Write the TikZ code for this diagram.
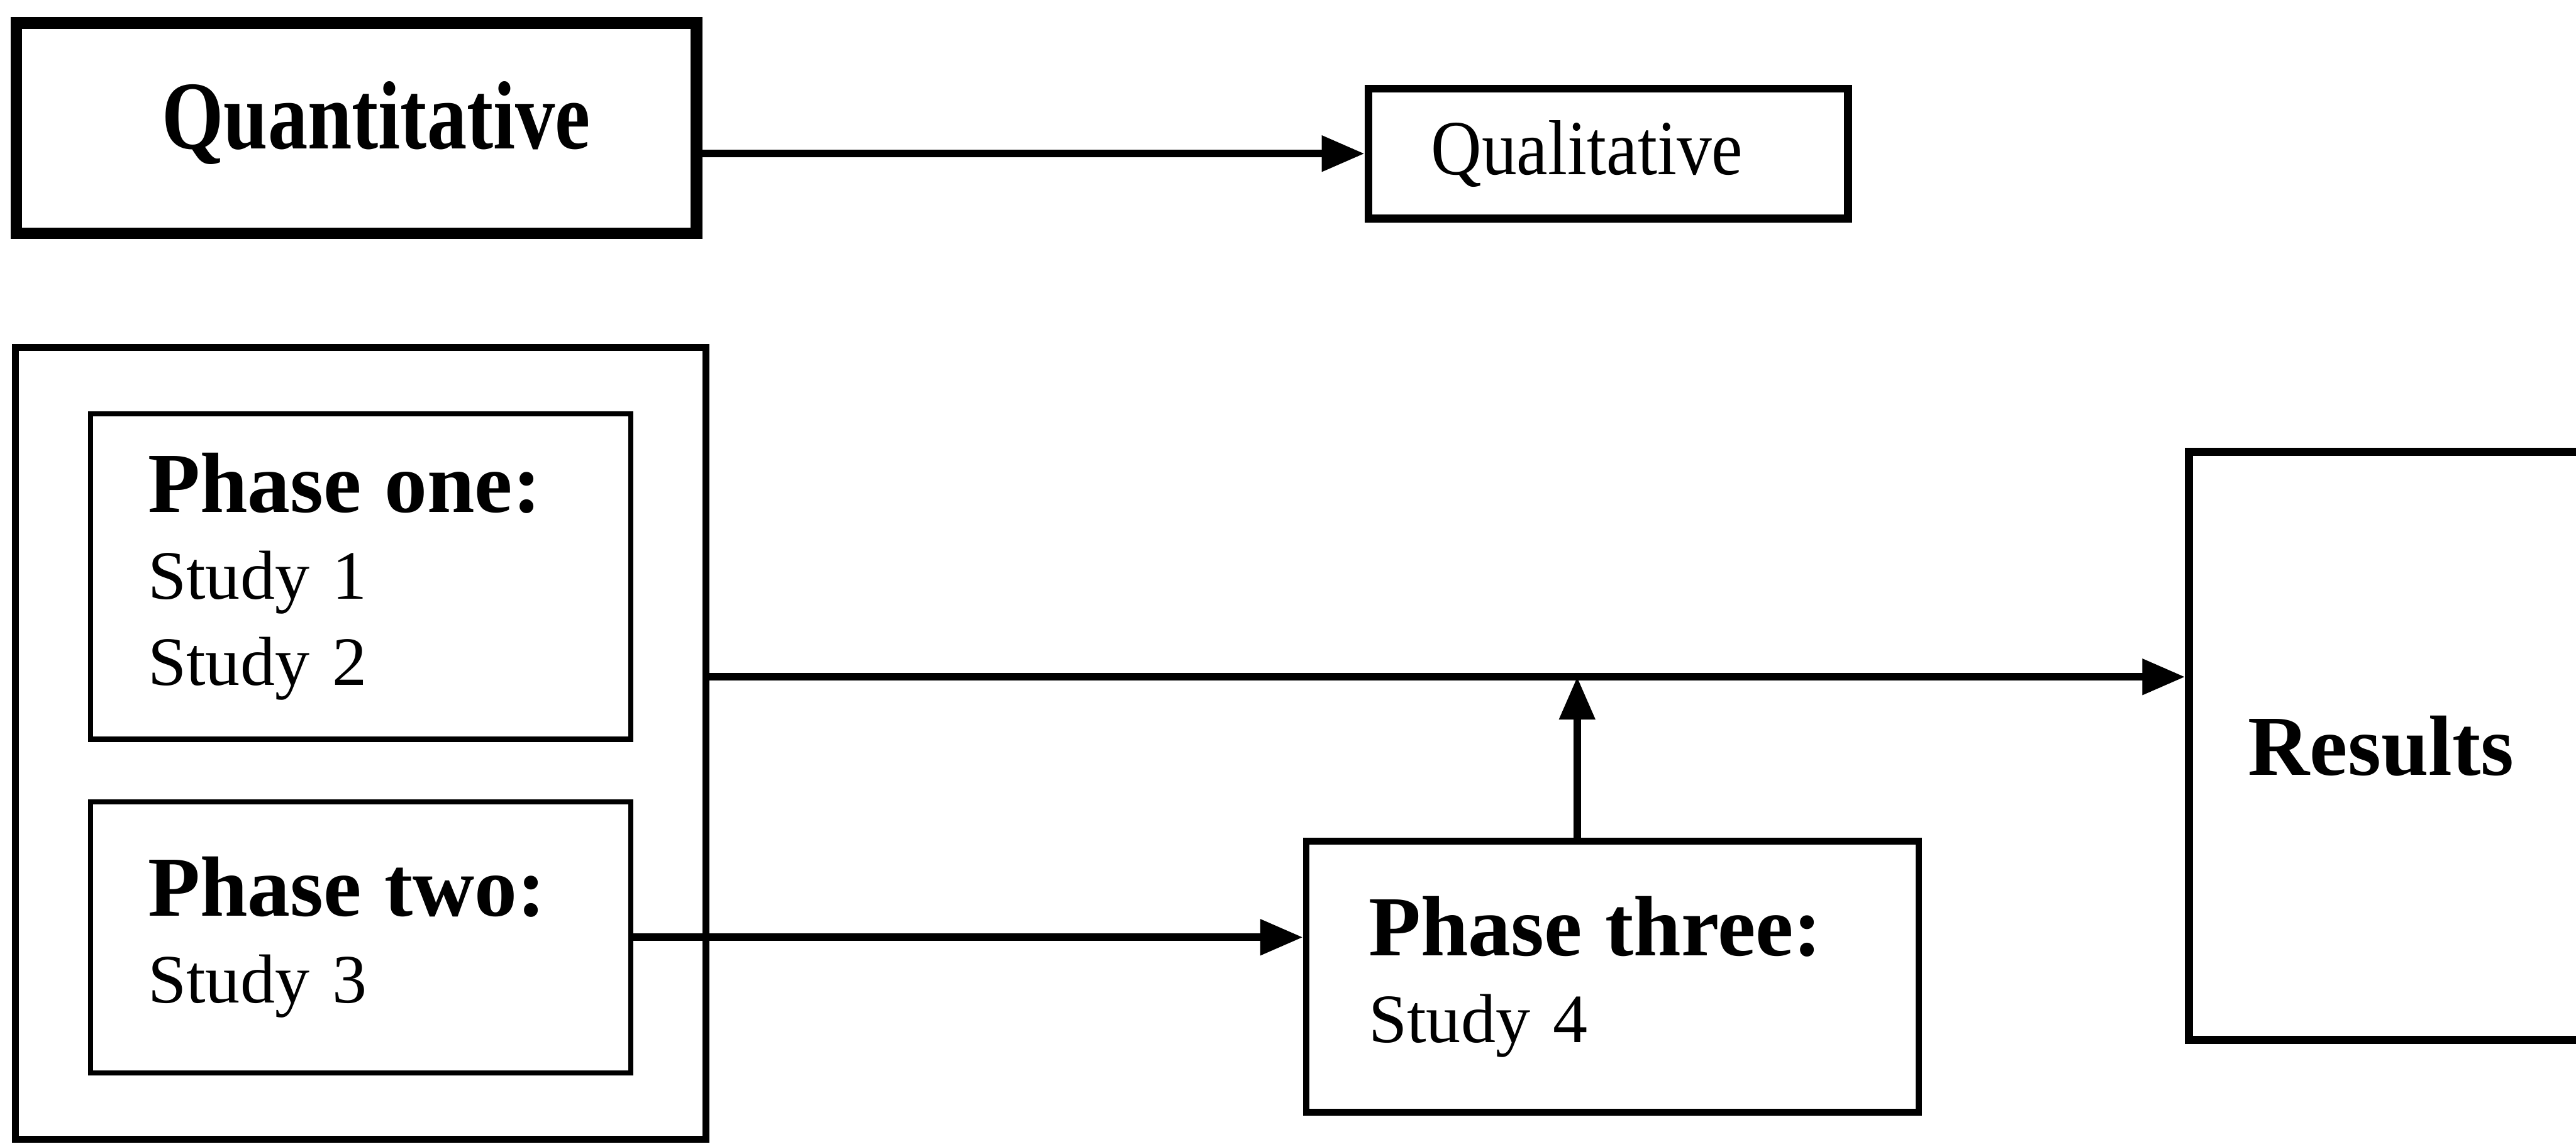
\documentclass[tikz,border=0pt]{standalone}
\usepackage{fontspec}
\setmainfont{Liberation Serif}
\newfontfamily\narrowfont{Liberation Serif}[FakeStretch=0.82]
\newfontfamily\slimfont{Liberation Serif}[FakeStretch=0.9]
\usetikzlibrary{arrows.meta,positioning,fit}

\tikzset{
  box/.style={draw, rectangle, inner sep=0pt},
  phasebox/.style={draw, rectangle, line width=0.9pt, align=left, inner xsep=0.35cm, inner ysep=0pt,
    font=\fontsize{12pt}{15pt}\selectfont},
  flow/.style={line width=1.3pt, -{Triangle[length=0.26cm,width=0.21cm]}}
}
\newcommand{\phasehead}[1]{{\fontsize{14.8pt}{15pt}\selectfont\bfseries #1}}

\begin{document}
\begin{tikzpicture}
    \useasboundingbox (0,0) rectangle (15.68,-6.96);

    % top row
    \node[box, line width=2pt, minimum width=4.14cm, minimum height=1.28cm,
        font=\narrowfont\fontsize{16.8pt}{18pt}\selectfont\bfseries] (quan) at (2.17,-0.78) {\hspace*{2.4mm}\raisebox{1.6mm}{Quantitative}};
    \node[box, line width=1.4pt, minimum width=2.92cm, minimum height=0.79cm,
        font=\slimfont\fontsize{13.5pt}{15pt}\selectfont] (qual) at (9.79,-0.935) {\hspace*{-2.6mm}Qualitative};

    % phases
    \node[phasebox, text width=2.59cm, minimum height=1.98cm] (p1) at (2.195,-3.51)
        {\phasehead{Phase one:}\\ Study 1\\ Study 2};
    \node[phasebox, text width=2.59cm, minimum height=1.65cm] (p2) at (2.195,-5.705)
        {\phasehead{Phase two:}\\ Study 3};
    \node[draw, line width=1.2pt, inner xsep=0.44cm, inner ysep=0.39cm, fit=(p1) (p2)] (grp) {};
    \node[phasebox, line width=1.1pt, text width=2.97cm, inner xsep=0.38cm, minimum height=1.65cm] (p3) at (9.815,-5.945)
        {\phasehead{Phase three:}\\ Study 4};

    \node[draw, line width=1.4pt, anchor=west, minimum height=3.58cm, text width=2.3cm, inner xsep=0.36cm,
        align=left, font=\fontsize{14.8pt}{15pt}\selectfont\bfseries] (res) at (13.30,-4.54) {Results};
    \coordinate (join) at ([yshift=4.2mm]res.west);

    % arrows
    \draw[flow] (quan.east |- qual.west) -- (qual.west);
    \draw[flow] (grp.east |- join) -- (join);
    \draw[flow] (p2.east) -- (p2.east -| p3.west);
    \draw[flow] ([xshift=-2.15mm]p3.north) -- ([xshift=-2.15mm]p3.north |- join);
\end{tikzpicture}
\end{document}
